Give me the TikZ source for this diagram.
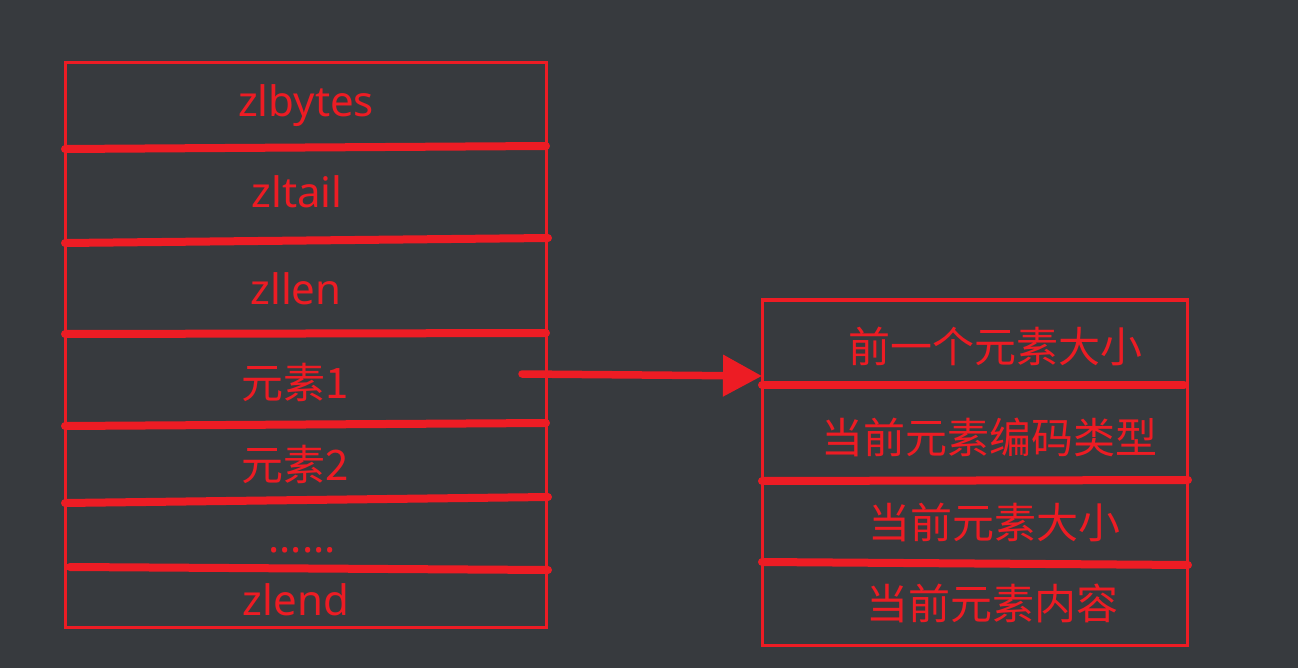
\documentclass[tikz,border=0pt]{standalone}
\usepackage{fontspec}
\setmainfont{Noto Sans}
\newfontfamily\cjk{Noto Sans CJK SC}
\usetikzlibrary{arrows.meta}
\definecolor{bgc}{HTML}{373A3E}
\definecolor{zred}{HTML}{ED1C24}
\tikzset{
  frame/.style={draw=zred, line width=3pt},
  divider/.style={draw=zred, line width=8pt, line cap=round},
  lbl/.style={text=zred, anchor=base, inner sep=0pt, font=\fontsize{42}{48}\selectfont},
  clbl/.style={text=zred, anchor=base, inner sep=0pt, font=\fontsize{42}{48}\selectfont\cjk},
  pointer/.style={draw=zred, line width=7.5pt, line cap=round, -{Triangle[length=39pt,width=40pt]}}
}
\begin{document}
\begin{tikzpicture}[x=1pt,y=-1pt]
\fill[bgc] (0,0) rectangle (1298,668);
\useasboundingbox (0,0) rectangle (1298,668);
% left box
\draw[frame] (65,63) rectangle (546,627);
\coordinate (l1a) at (65,149); \coordinate (l1b) at (546,146);
\coordinate (l2a) at (65,243); \coordinate (l2b) at (548,238);
\coordinate (l3a) at (65,334); \coordinate (l3b) at (546,333);
\coordinate (l4a) at (65,426); \coordinate (l4b) at (546,423);
\coordinate (l5a) at (65,503); \coordinate (l5b) at (548,497);
\coordinate (l6a) at (70,567); \coordinate (l6b) at (548,570);
\draw[divider] (l1a) -- (l1b);
\draw[divider] (l2a) -- (l2b);
\draw[divider] (l3a) -- (l3b);
\draw[divider] (l4a) -- (l4b);
\draw[divider] (l5a) -- (l5b);
\draw[divider] (l6a) -- (l6b);
\node[lbl] (zlbytes) at (306,117) {zlbytes};
\node[lbl] (zltail) at (297,208) {zltail};
\node[lbl] (zllen) at (296,305) {zllen};
\node[clbl] (e1) at (295,398) {元素1};
\node[clbl] (e2) at (295,480) {元素2};
\node[lbl] (dots) at (302,552) {......};
\node[lbl] (zlend) at (296,615) {zlend};
% right box
\draw[frame] (762,300) rectangle (1187,645);
\coordinate (r1a) at (762,385); \coordinate (r1b) at (1184,385);
\coordinate (r2a) at (762,481); \coordinate (r2b) at (1188,480);
\coordinate (r3a) at (762,562); \coordinate (r3b) at (1188,565);
\draw[divider] (r1a) -- (r1b);
\draw[divider] (r2a) -- (r2b);
\draw[divider] (r3a) -- (r3b);
\node[clbl] (prev) at (995,362) {前一个元素大小};
\node[clbl] (enc) at (989,453) {当前元素编码类型};
\node[clbl] (size) at (994,538) {当前元素大小};
\node[clbl] (cont) at (992,619) {当前元素内容};
% arrow
\coordinate (a1) at (522,374);
\coordinate (a2) at (762,376);
\draw[pointer] (a1) -- (a2);
\end{tikzpicture}
\end{document}
